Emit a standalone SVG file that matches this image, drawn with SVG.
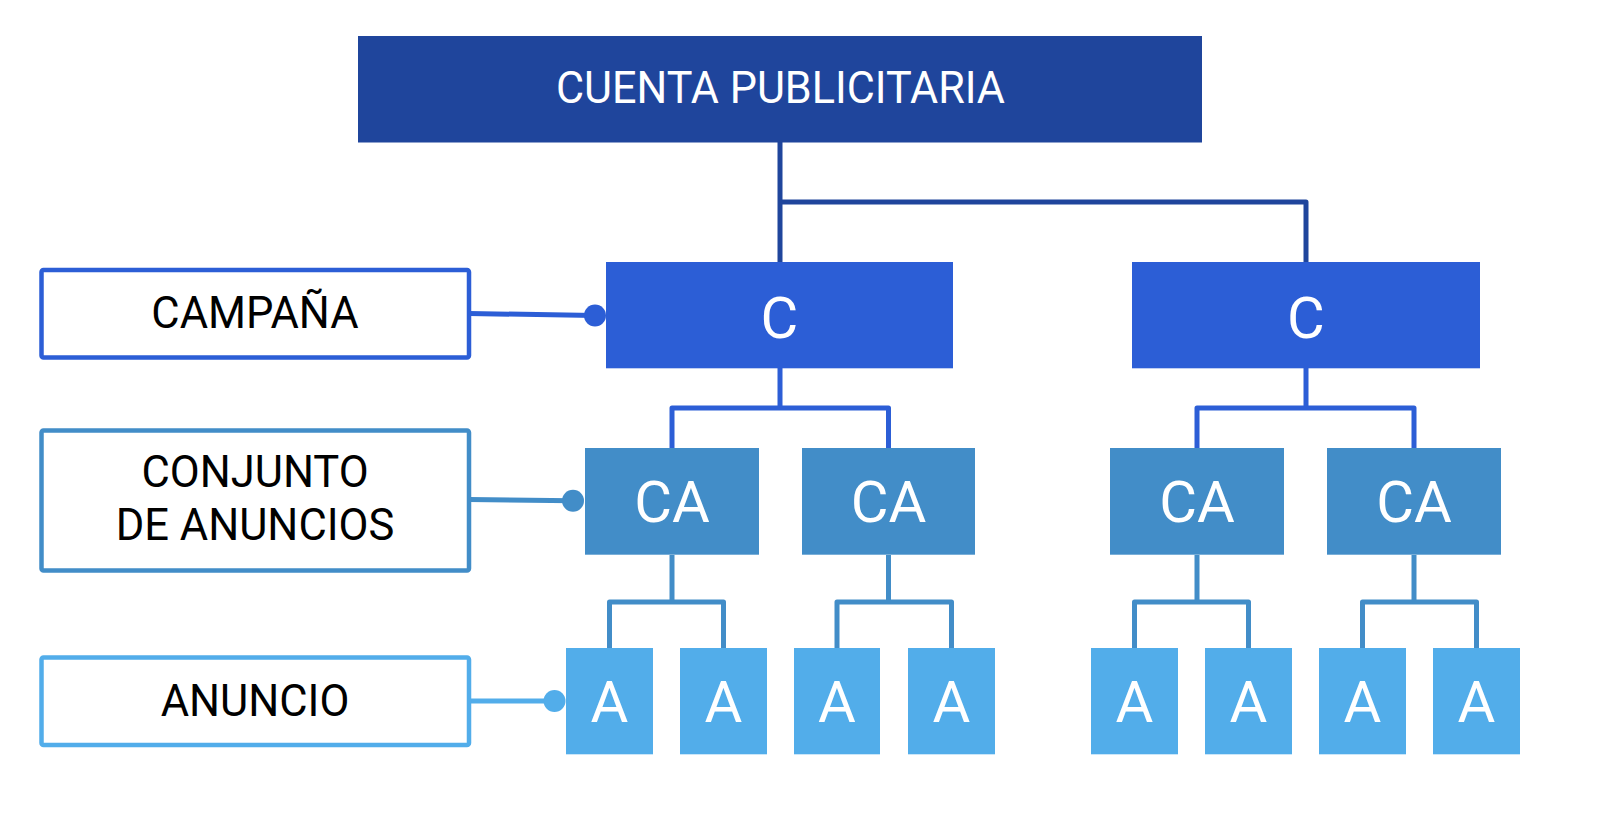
<svg xmlns="http://www.w3.org/2000/svg" width="1618" height="816" viewBox="0 0 1618 816">
<style>
  .t { font-family: Roboto, "Liberation Sans", sans-serif; text-anchor: middle; }
  .w { fill: #ffffff; }
  .k { fill: #000000; font-size: 43.5px; }
  .big { font-size: 58px; }
  .top { fill: #1F459C; }
  .c { fill: #2C5ED6; }
  .ca { fill: #428DC8; }
  .a { fill: #52ADEA; }
  .lbl { fill: #ffffff; stroke-width: 4.5; }
  .ln { fill: none; stroke-width: 5; stroke-linejoin: round; }
  .l0 { stroke: #1F459C; }
  .l1 { stroke: #2C5ED6; }
  .l2 { stroke: #428DC8; }
  .l3 { stroke: #52ADEA; }
</style>
<rect width="1618" height="816" fill="#ffffff"/>
<g id="connectors">
  <path class="ln l0" d="M780,142 V262 M780,202 H1306 V262"/>
  <path class="ln l1" d="M780,368 V408 M672,449 V408 H888.5 V449"/>
  <path class="ln l1" d="M1306,368 V408 M1197,449 V408 H1414 V449"/>
  <path class="ln l2" d="M672,555 V602 M609.5,648 V602 H723.5 V648"/>
  <path class="ln l2" d="M888.5,555 V602 M837,648 V602 H951.5 V648"/>
  <path class="ln l2" d="M1197,555 V602 M1134.5,648 V602 H1248.5 V648"/>
  <path class="ln l2" d="M1414,555 V602 M1362.5,648 V602 H1476.5 V648"/>
  <line class="ln l1" x1="469" y1="313.5" x2="595" y2="315.5" stroke-width="4.5"/>
  <circle class="c" cx="595" cy="315.5" r="11"/>
  <line class="ln l2" x1="469" y1="499.5" x2="573" y2="500.7" stroke-width="4.5"/>
  <circle class="ca" cx="573" cy="500.7" r="11"/>
  <line class="ln l3" x1="469" y1="701" x2="554.5" y2="701" stroke-width="4.5"/>
  <circle class="a" cx="554.5" cy="701" r="11"/>
</g>
<g id="cuenta">
  <rect class="top" x="358" y="36" width="844" height="106.5"/>
  <text class="t w" x="780.5" y="102.7" font-size="44" textLength="449" lengthAdjust="spacingAndGlyphs">CUENTA PUBLICITARIA</text>
</g>
<g id="label-campana">
  <rect class="lbl" x="41.5" y="270" width="427.5" height="87.5" rx="2" stroke="#2C5ED6"/>
  <text class="t k" x="255" y="327.5">CAMPAÑA</text>
</g>
<g id="label-conjunto">
  <rect class="lbl" x="41.5" y="430.5" width="427.5" height="140" rx="2" stroke="#428DC8"/>
  <text class="t k" x="255" y="487">CONJUNTO</text>
  <text class="t k" x="255" y="539.5">DE ANUNCIOS</text>
</g>
<g id="label-anuncio">
  <rect class="lbl" x="41.5" y="657.5" width="427.5" height="87.5" rx="2" stroke="#52ADEA"/>
  <text class="t k" x="255" y="715.5" font-size="44.5">ANUNCIO</text>
</g>
<g id="c1">
  <rect class="c" x="606" y="262" width="347" height="106.3"/>
  <text class="t w big" x="779.5" y="338.3">C</text>
</g>
<g id="c2">
  <rect class="c" x="1132" y="262" width="348" height="106.3"/>
  <text class="t w big" x="1306" y="338.3">C</text>
</g>
<g id="ca1">
  <rect class="ca" x="585" y="448" width="174" height="106.7"/>
  <text class="t w big" x="672" y="522.3">CA</text>
</g>
<g id="ca2">
  <rect class="ca" x="802" y="448" width="173" height="106.7"/>
  <text class="t w big" x="888.5" y="522.3">CA</text>
</g>
<g id="ca3">
  <rect class="ca" x="1110" y="448" width="174" height="106.7"/>
  <text class="t w big" x="1197" y="522.3">CA</text>
</g>
<g id="ca4">
  <rect class="ca" x="1327" y="448" width="174" height="106.7"/>
  <text class="t w big" x="1414" y="522.3">CA</text>
</g>
<g id="a1"><rect class="a" x="566" y="648" width="87" height="106.3"/><text class="t w big" x="609.5" y="722.3">A</text></g>
<g id="a2"><rect class="a" x="680" y="648" width="87" height="106.3"/><text class="t w big" x="723.5" y="722.3">A</text></g>
<g id="a3"><rect class="a" x="794" y="648" width="86" height="106.3"/><text class="t w big" x="837" y="722.3">A</text></g>
<g id="a4"><rect class="a" x="908" y="648" width="87" height="106.3"/><text class="t w big" x="951.5" y="722.3">A</text></g>
<g id="a5"><rect class="a" x="1091" y="648" width="87" height="106.3"/><text class="t w big" x="1134.5" y="722.3">A</text></g>
<g id="a6"><rect class="a" x="1205" y="648" width="87" height="106.3"/><text class="t w big" x="1248.5" y="722.3">A</text></g>
<g id="a7"><rect class="a" x="1319" y="648" width="87" height="106.3"/><text class="t w big" x="1362.5" y="722.3">A</text></g>
<g id="a8"><rect class="a" x="1433" y="648" width="87" height="106.3"/><text class="t w big" x="1476.5" y="722.3">A</text></g>
</svg>
